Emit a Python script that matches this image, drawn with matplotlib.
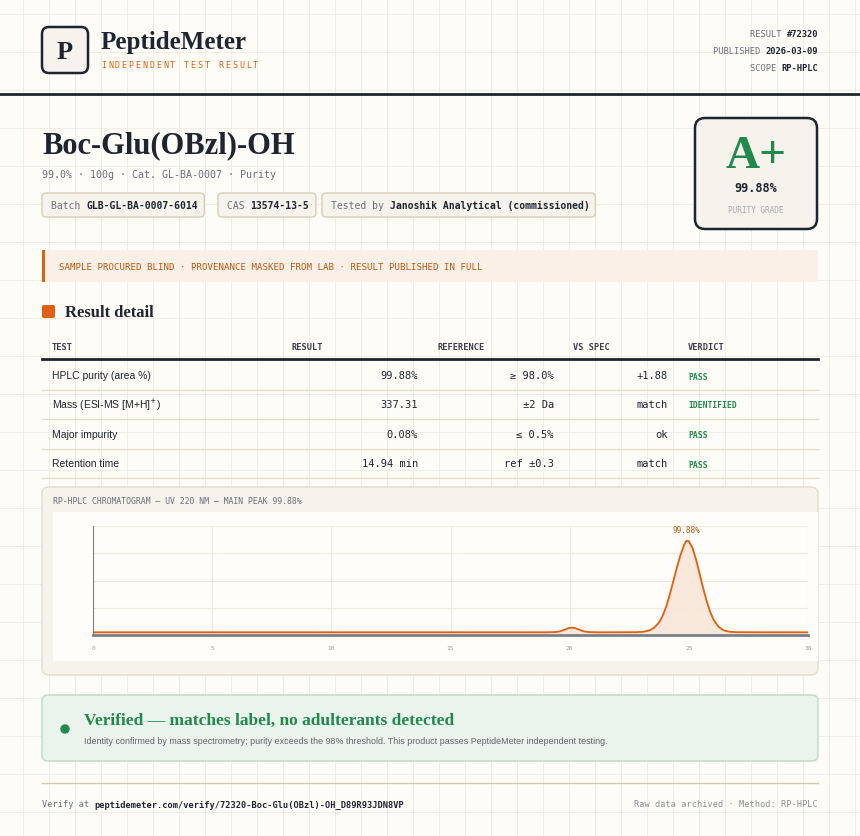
import matplotlib.pyplot as plt
from matplotlib.patches import FancyBboxPatch, Rectangle

# chromatogram trace (min, relative signal)
times = [0, 5, 10, 15, 19.0, 19.4, 19.6, 19.8, 19.95, 20.1, 20.25, 20.4, 20.6, 20.8, 21.2,
         22.0, 22.8, 23.1, 23.35, 23.55, 23.75, 23.9, 24.05, 24.2, 24.35, 24.5, 24.65, 24.8,
         24.9, 25.0, 25.15, 25.3, 25.45, 25.6, 25.75, 25.9, 26.05, 26.25, 26.45, 26.7, 27.0,
         28, 30]
signal = [2.5, 2.5, 2.5, 2.5, 2.5, 2.7, 3.4, 5.0, 6.3, 6.8, 6.2, 4.9, 3.3, 2.7, 2.5,
          2.5, 2.6, 3.0, 4.2, 6.8, 11.5, 17.5, 26.0, 37.0, 49.5, 62.0, 73.5, 82.5,
          86.5, 86.0, 80.0, 69.5, 56.5, 43.0, 31.0, 21.0, 13.5, 7.5, 4.4, 3.0, 2.6,
          2.5, 2.5]
x_ticks = [0, 5, 10, 15, 20, 25, 30]

table_head = ['TEST', 'RESULT', 'REFERENCE', 'VS SPEC', 'VERDICT']
tests = ['HPLC purity (area %)', 'Mass (ESI-MS [M+H]$^{+}$)', 'Major impurity', 'Retention time']
results = ['99.88%', '337.31', '0.08%', '14.94 min']
refs = ['≥ 98.0%', '±2 Da', '≤ 0.5%', 'ref ±0.3']
vs_spec = ['+1.88', 'match', 'ok', 'match']
verdicts = ['PASS', 'IDENTIFIED', 'PASS', 'PASS']

BG = '#fdfcf7'
INK = '#1e2430'
ORANGE = '#e0600f'
GREEN = '#1f8a4c'
GRAY = '#6b6f78'
MONO = 'DejaVu Sans Mono'
SERIF = 'Liberation Serif'
SANS = 'Liberation Sans'
CW = 5.85  # px per mono char at 7pt

fig = plt.figure(figsize=(8.6, 8.37), dpi=100, facecolor=BG)
ax = fig.add_axes([0, 0, 1, 1])
ax.set_xlim(0, 860)
ax.set_ylim(837, 0)
ax.axis('off')

# faint page grid
for gx in range(23, 860, 26):
    ax.axvline(gx, color='#efede4', lw=0.7, zorder=0)
for gy in range(15, 837, 38):
    ax.axhline(gy, color='#efede4', lw=0.7, zorder=0)

def rbox(x, y, w, h, fc, ec, lw=1, r=4, z=1):
    ax.add_patch(FancyBboxPatch((x + r, y + r), w - 2 * r, h - 2 * r,
                                boxstyle=f'round,pad={r}', fc=fc, ec=ec, lw=lw, zorder=z))

def mono(x, y, s, size=7, color=GRAY, weight='normal', ha='left'):
    ax.text(x, y, s, family=MONO, fontsize=size, color=color, weight=weight,
            ha=ha, va='center', zorder=5)

# header
rbox(42, 28, 46, 46, '#f5f3ec', INK, lw=1.8, r=7)
ax.text(65, 52, 'P', family=SERIF, fontsize=19, color=INK, weight='bold',
        ha='center', va='center', zorder=5)
ax.text(101, 42, 'PeptideMeter', family=SERIF, fontsize=18, color=INK, weight='bold',
        va='center', zorder=5)
# letter-spaced tagline, one character at a time
for k, ch in enumerate('INDEPENDENT TEST RESULT'):
    mono(101 + k * 6.9, 65, ch, size=6.0, color=ORANGE)
for yy, lab, val in [(34, 'RESULT ', '#72320'), (51, 'PUBLISHED ', '2026-03-09'), (68, 'SCOPE ', 'RP-HPLC')]:
    mono(818, yy, val, size=6.3, color=INK, weight='bold', ha='right')
    mono(818 - len(val) * 5.27, yy, lab, size=6.3, color=GRAY, ha='right')
ax.plot([0, 860], [95, 95], color=INK, lw=2, zorder=4)

# product title
ax.text(42, 146, 'Boc-Glu(OBzl)-OH', family=SERIF, fontsize=22, color=INK, weight='bold',
        va='center', zorder=5)
mono(42, 175, '99.0% · 100g · Cat. GL-BA-0007 · Purity', size=7.2, color=GRAY)
chips = [(42, 'Batch ', 'GLB-GL-BA-0007-6014'), (218, 'CAS ', '13574-13-5'),
         (322, 'Tested by ', 'Janoshik Analytical (commissioned)')]
for cx, lab, val in chips:
    w = (len(lab) + len(val)) * CW + 16
    rbox(cx, 194, w, 24, '#f5f3ec', '#d8ceb6', lw=1, r=4)
    mono(cx + 9, 206, lab, color=GRAY)
    mono(cx + 9 + len(lab) * CW, 206, val, color=INK, weight='bold')

# grade card
rbox(695, 119, 122, 111, '#f5f3ec', INK, lw=1.8, r=10)
ax.text(756, 157, 'A+', family=SERIF, fontsize=34, color=GREEN, weight='bold',
        ha='center', va='center', zorder=5)
mono(756, 188, '99.88%', size=8.5, color=INK, weight='bold', ha='center')
mono(756, 210, 'PURITY GRADE', size=5.6, color='#a7a9ae', ha='center')

# notice strip
ax.add_patch(Rectangle((42, 251), 776, 32, fc='#fbf0e8', ec='none', zorder=1))
ax.add_patch(Rectangle((42, 251), 3, 32, fc=ORANGE, ec='none', zorder=2))
mono(59, 267, 'SAMPLE PROCURED BLIND · PROVENANCE MASKED FROM LAB · RESULT PUBLISHED IN FULL',
     size=6.6, color='#c0570f')

# result detail
rbox(42, 306, 13, 13, ORANGE, 'none', r=2)
ax.text(65, 313, 'Result detail', family=SERIF, fontsize=12, color=INK, weight='bold',
        va='center', zorder=5)
head_x = [52, 292, 437, 573, 688]
for hx, h in zip(head_x, table_head):
    mono(hx, 347, h, size=6.2, color='#3b404a', weight='bold')
ax.plot([42, 818], [360, 360], color=INK, lw=2, zorder=4)
row_y = [376, 405, 435, 464]
for i, ry in enumerate(row_y):
    ax.text(52, ry, tests[i], family=SANS, fontsize=7.5, color=INK, va='center', zorder=5)
    mono(418, ry, results[i], size=7.5, color=INK, ha='right')
    mono(554, ry, refs[i], size=7.5, color=INK, ha='right')
    mono(668, ry, vs_spec[i], size=7.5, color=INK, ha='right')
    mono(688, ry + 1, verdicts[i], size=5.8, color=GREEN, weight='bold')
    ax.plot([42, 818], [ry + 14.5, ry + 14.5], color='#e5ddcc', lw=1, zorder=4)

# chromatogram panel
rbox(42, 488, 776, 188, '#f5f3ec', '#e2dccb', lw=1, r=7)
ax.add_patch(Rectangle((53, 513), 765, 149, fc='#fefdf9', ec='none', zorder=2))
mono(53, 502, 'RP-HPLC CHROMATOGRAM — UV 220 NM — MAIN PEAK 99.88%', size=5.9, color=GRAY)

cax = fig.add_axes([93 / 860, (837 - 636) / 837, 715 / 860, 109 / 837])
cax.set_facecolor('#fefdf9')
cax.set_xlim(0, 30)
cax.set_ylim(0, 100)
cax.set_xticks(x_ticks)
cax.set_yticks([25, 50, 75, 100])
cax.set_yticklabels([])
cax.set_xticklabels([str(t) for t in x_ticks], family=MONO, fontsize=4.5, color='#9a9ea6')
cax.tick_params(length=0, pad=7)
cax.grid(color='#eeeae0', lw=0.8)
for s in ['top', 'right']:
    cax.spines[s].set_visible(False)
cax.spines['left'].set_color('#7b7f86')
cax.spines['bottom'].set_color('#7b7f86')
cax.spines['bottom'].set_linewidth(2)
cax.fill_between(times, signal, color='#f7e6d8', alpha=0.9, zorder=2)
cax.plot(times, signal, color=ORANGE, lw=1.3, zorder=3)
imax = signal.index(max(signal))
cax.annotate('99.88%', (times[imax], signal[imax]), xytext=(0, 6), textcoords='offset points',
             ha='center', family=MONO, fontsize=5.5, color='#c0570f')

# verdict banner
rbox(42, 696, 776, 66, '#eaf4ec', '#b9dcc4', lw=1, r=6)
ax.add_patch(plt.Circle((65, 730), 4, color=GREEN, zorder=5))
ax.text(84, 721, 'Verified — matches label, no adulterants detected', family=SERIF,
        fontsize=12.5, color=GREEN, weight='bold', va='center', zorder=5)
ax.text(84, 742, 'Identity confirmed by mass spectrometry; purity exceeds the 98% threshold. '
        'This product passes PeptideMeter independent testing.', family=SANS, fontsize=6.4,
        color='#5f646c', va='center', zorder=5)

# footer
ax.plot([42, 818], [784, 784], color='#d5c9ad', lw=1, zorder=4)
mono(42, 805, 'Verify at ', size=6.2, color=GRAY)
mono(42 + 10 * 5.27, 805, 'peptidemeter.com/verify/72320-Boc-Glu(OBzl)-OH_D89R93JDN8VP',
     size=6.2, color=INK, weight='bold')
mono(818, 805, 'Raw data archived · Method: RP-HPLC', size=6.2, color='#8d9098', ha='right')

fig.savefig('out.png', dpi=100, facecolor=BG)
